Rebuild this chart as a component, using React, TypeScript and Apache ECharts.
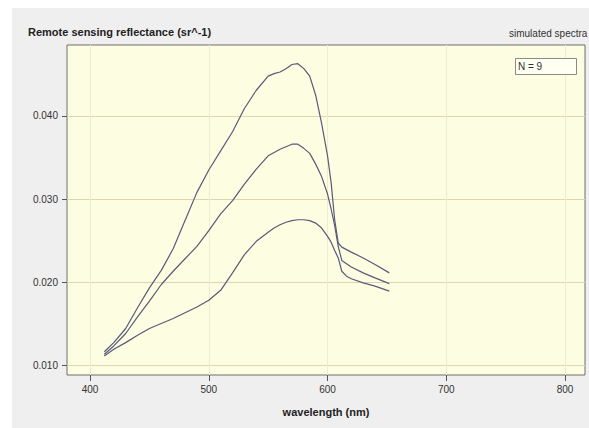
import React, { useEffect, useRef } from "react";
import * as echarts from "echarts";

const wavelengths = [412, 420, 430, 440, 450, 460, 470, 480, 490, 500, 510, 520, 530, 540, 550, 555, 560, 565, 570, 575, 580, 585, 590, 595, 600, 603, 606, 609, 612, 616, 620, 630, 640, 652];
const spectrumHigh = [0.0116, 0.0127, 0.0144, 0.0169, 0.0193, 0.0214, 0.024, 0.0274, 0.0308, 0.0335, 0.0358, 0.0381, 0.0409, 0.0431, 0.0448, 0.0451, 0.0453, 0.0457, 0.0462, 0.0463, 0.0457, 0.0448, 0.0425, 0.0391, 0.0352, 0.032, 0.0275, 0.0247, 0.0242, 0.0239, 0.0236, 0.0229, 0.0221, 0.0211];
const spectrumMid = [0.0113, 0.0123, 0.0138, 0.0158, 0.0177, 0.0197, 0.0213, 0.0228, 0.0243, 0.0262, 0.0282, 0.0298, 0.0318, 0.0336, 0.0352, 0.0356, 0.036, 0.0363, 0.0366, 0.0366, 0.0361, 0.0355, 0.0342, 0.0327, 0.0306, 0.0288, 0.0268, 0.0243, 0.0226, 0.0222, 0.0218, 0.0211, 0.0205, 0.0198];
const spectrumLow = [0.0111, 0.0119, 0.0127, 0.0136, 0.0144, 0.015, 0.0156, 0.0163, 0.017, 0.0178, 0.019, 0.0211, 0.0233, 0.0249, 0.026, 0.0265, 0.0269, 0.0272, 0.0274, 0.0275, 0.0275, 0.0274, 0.0271, 0.0265, 0.0255, 0.0248, 0.0238, 0.0229, 0.0213, 0.0207, 0.0204, 0.0199, 0.0195, 0.0189];

const xTicks = [400, 500, 600, 700, 800];
const yTicks = [0.01, 0.02, 0.03, 0.04];

const titleText = "Remote sensing reflectance (sr^-1)";
const subtitleText = "simulated spectra";
const xAxisTitle = "wavelength (nm)";
const countLabel = "N = 9";

const FONT = "'Liberation Sans', Arial, sans-serif";
const LINE_COLOR = "#5a5a7a";

export default function App() {
  const ref = useRef<HTMLDivElement>(null);

  useEffect(() => {
    if (!ref.current) return;
    const chart = echarts.init(ref.current, undefined, { renderer: "svg" });
    const toPairs = (vals: number[]) => wavelengths.map((w, i) => [w, vals[i]]);
    chart.setOption({
      animation: false,
      textStyle: { fontFamily: FONT },
      title: {
        text: titleText,
        left: 28,
        top: 26,
        padding: 0,
        textStyle: { fontSize: 11, fontWeight: "bold", color: "#222", fontFamily: FONT },
      },
      grid: {
        left: 67,
        top: 45,
        width: 518,
        height: 330,
        show: true,
        backgroundColor: "#fdfde1",
        borderColor: "#6e6e6e",
        borderWidth: 1,
      },
      xAxis: {
        type: "value",
        min: 380.6,
        max: 816.8,
        name: xAxisTitle,
        nameLocation: "middle",
        nameGap: 31,
        nameTextStyle: { fontSize: 11, fontWeight: "bold", color: "#222", fontFamily: FONT },
        axisLine: { show: false },
        axisTick: { show: true, length: 6, customValues: xTicks, lineStyle: { color: "#555" } },
        axisLabel: { customValues: xTicks, fontSize: 10, color: "#333", margin: 9, fontFamily: FONT },
        splitLine: { show: true, lineStyle: { color: "#efedcf", width: 1 } },
      },
      yAxis: {
        type: "value",
        min: 0.0088,
        max: 0.04855,
        axisLine: { show: false },
        axisTick: { show: true, length: 5, customValues: yTicks, lineStyle: { color: "#555" } },
        axisLabel: {
          customValues: yTicks,
          fontSize: 10,
          color: "#333",
          margin: 9,
          fontFamily: FONT,
          formatter: (v: number) => v.toFixed(3),
        },
        splitLine: { show: true, lineStyle: { color: "#dcd8ae", width: 1 } },
      },
      series: [spectrumHigh, spectrumMid, spectrumLow].map((vals, i) => ({
        type: "line",
        name: "s" + i,
        data: toPairs(vals),
        showSymbol: false,
        symbol: "none",
        lineStyle: { color: LINE_COLOR, width: 1.2 },
        z: 3,
      })),
      graphic: [
        {
          type: "text",
          left: 509,
          top: 28,
          style: { text: subtitleText, fontSize: 10, fill: "#333", fontFamily: FONT },
        },
        {
          type: "rect",
          shape: { x: 515.5, y: 58.5, width: 61, height: 16 },
          style: { fill: "#fffff2", stroke: "#8a8a8a", lineWidth: 1 },
          z: 10,
        },
        {
          type: "text",
          x: 518,
          y: 61,
          style: { text: countLabel, fontSize: 10, fill: "#333", fontFamily: FONT },
          z: 11,
        },
      ],
    });
    return () => chart.dispose();
  }, []);

  return (
    <div style={{ position: "fixed", left: 0, top: 0, width: 589, height: 428, background: "#ffffff" }}>
      <div style={{ position: "absolute", left: 12, top: 8, right: 0, bottom: 0, background: "#efefef" }} />
      <div ref={ref} style={{ position: "absolute", left: 0, top: 0, width: 589, height: 428 }} />
    </div>
  );
}
